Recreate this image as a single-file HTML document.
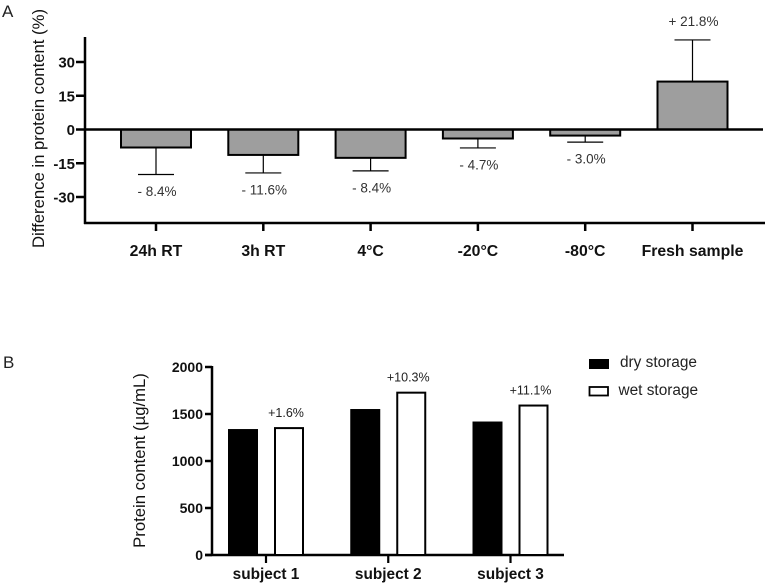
<!DOCTYPE html>
<html lang="en">
<head>
<meta charset="utf-8">
<title>Protein content charts</title>
<style>
  html, body { margin: 0; padding: 0; background: #fff; width: 767px; height: 587px; overflow: hidden; }
  svg { display: block; font-family: "Liberation Sans", sans-serif; filter: blur(0.35px); }
</style>
</head>
<body>
<svg id="fig" xmlns="http://www.w3.org/2000/svg" width="767" height="587" viewBox="0 0 767 587"></svg>
<script>
const categoriesA = ['24h RT', '3h RT', '4°C', '-20°C', '-80°C', 'Fresh sample'];
const valuesA = [-8, -11.3, -12.6, -4, -2.7, 21.3];
const errorEndsA = [-20, -19.3, -18.4, -8.2, -5.6, 39.8];
const printedA = ['- 8.4%', '- 11.6%', '- 8.4%', '- 4.7%', '- 3.0%', '+ 21.8%'];
const ticksA = [30, 15, 0, -15, -30];

const categoriesB = ['subject 1', 'subject 2', 'subject 3'];
const dryB = [1340, 1553, 1420];
const wetB = [1350, 1727, 1590];
const printedB = ['+1.6%', '+10.3%', '+11.1%'];
const ticksB = [2000, 1500, 1000, 500, 0];

const svg = document.getElementById('fig');
const NS = 'http://www.w3.org/2000/svg';

function make(tag, attrs, text) {
  const el = document.createElementNS(NS, tag);
  for (const k in attrs) el.setAttribute(k, attrs[k]);
  if (text !== undefined) el.textContent = text;
  svg.appendChild(el);
  return el;
}
function line(x1, y1, x2, y2, w) {
  return make('line', { x1, y1, x2, y2, stroke: '#000', 'stroke-width': w });
}

const xA = i => 156 + i * 107.3;
const yA = v => 129.5 - v * 2.25;
const xB = i => 266 + i * 122.25;
const yB = v => 555 - v * 0.094;

let el;

/* Panel letters */
el = make('text', { x: 2, y: 17, 'font-size': 17, fill: '#222' }, 'A');


el = make('text', { x: 3, y: 368, 'font-size': 17, fill: '#222' }, 'B');



/* Panel A axes */
el = make('text', { transform: 'translate(44 128.5) rotate(-90)', 'text-anchor': 'middle', 'font-size': 16.7, fill: '#111' }, 'Difference in protein content (%)');


el = line(85, 37, 85, 224, 2.5);


el = line(84, 223, 765, 223, 2.5);



ticksA.forEach(t => {
  el = line(76, yA(t), 85, yA(t), 2.5);
  
  
  el = make('text', { x: 75, y: yA(t) + 5.5, 'text-anchor': 'end', 'font-size': 15, 'font-weight': 'bold', fill: '#111' }, String(t));
  
  
});

/* Panel A bars */
categoriesA.forEach((c, i) => {
  const x = xA(i), top = Math.min(yA(valuesA[i]), yA(0)), h = Math.abs(yA(valuesA[i]) - yA(0));
  el = line(x, yA(valuesA[i]), x, yA(errorEndsA[i]), 1.2);
  
  
  el = line(x - 18, yA(errorEndsA[i]), x + 18, yA(errorEndsA[i]), 1.2);
  
  
  el = make('rect', { x: x - 35, y: top, width: 70, height: h, fill: '#9e9e9e', stroke: '#000', 'stroke-width': 2 });
  
  
  el = line(x, 223, x, 231, 2.5);
  
  
  el = make('text', { x: x, y: 256, 'text-anchor': 'middle', 'font-size': 15.8, 'font-weight': 'bold', fill: '#111' }, c);
  
  
  const above = valuesA[i] > 0;
  el = make('text', { x: x + 1, y: yA(errorEndsA[i]) + (above ? -14 : 21.5), 'text-anchor': 'middle', 'font-size': 13.5, fill: '#333' }, printedA[i]);
  
  
});
el = line(84, yA(0), 763, yA(0), 2.5);



/* Panel B axes */
el = make('text', { transform: 'translate(145 460.5) rotate(-90)', 'text-anchor': 'middle', 'font-size': 16.7, fill: '#111' }, 'Protein content (µg/mL)');


el = line(212, 366, 212, 556, 2.5);


el = line(205, 555, 564, 555, 2.5);



ticksB.forEach(t => {
  el = line(205, yB(t), 212, yB(t), 2.5);
  
  
  el = make('text', { x: 203, y: yB(t) + 5, 'text-anchor': 'end', 'font-size': 14, 'font-weight': 'bold', fill: '#111' }, String(t));
  
  
});

/* Panel B bars */
categoriesB.forEach((c, i) => {
  const x = xB(i);
  el = make('rect', { x: x - 38, y: yB(dryB[i]), width: 30, height: 555 - yB(dryB[i]), fill: '#000' });
  
  
  el = make('rect', { x: x + 9, y: yB(wetB[i]), width: 28, height: 555 - yB(wetB[i]), fill: '#fff', stroke: '#000', 'stroke-width': 2 });
  
  
  el = line(x, 555, x, 563, 2.2);
  
  
  el = make('text', { x: x, y: 579, 'text-anchor': 'middle', 'font-size': 15.4, 'font-weight': 'bold', fill: '#111' }, c);
  
  
  el = make('text', { x: x + 20, y: yB(wetB[i]) - 11, 'text-anchor': 'middle', 'font-size': 12.5, fill: '#222' }, printedB[i]);
  
  
});

/* Legend */
el = make('rect', { x: 589, y: 359, width: 20, height: 10, fill: '#000' });


el = make('text', { x: 620, y: 367, 'font-size': 15.4, fill: '#222' }, 'dry storage');


el = make('rect', { x: 589.5, y: 387, width: 18.5, height: 8.5, fill: '#fff', stroke: '#000', 'stroke-width': 1.8 });


el = make('text', { x: 618.5, y: 395, 'font-size': 15.4, fill: '#222' }, 'wet storage');


</script>
</body>
</html>
